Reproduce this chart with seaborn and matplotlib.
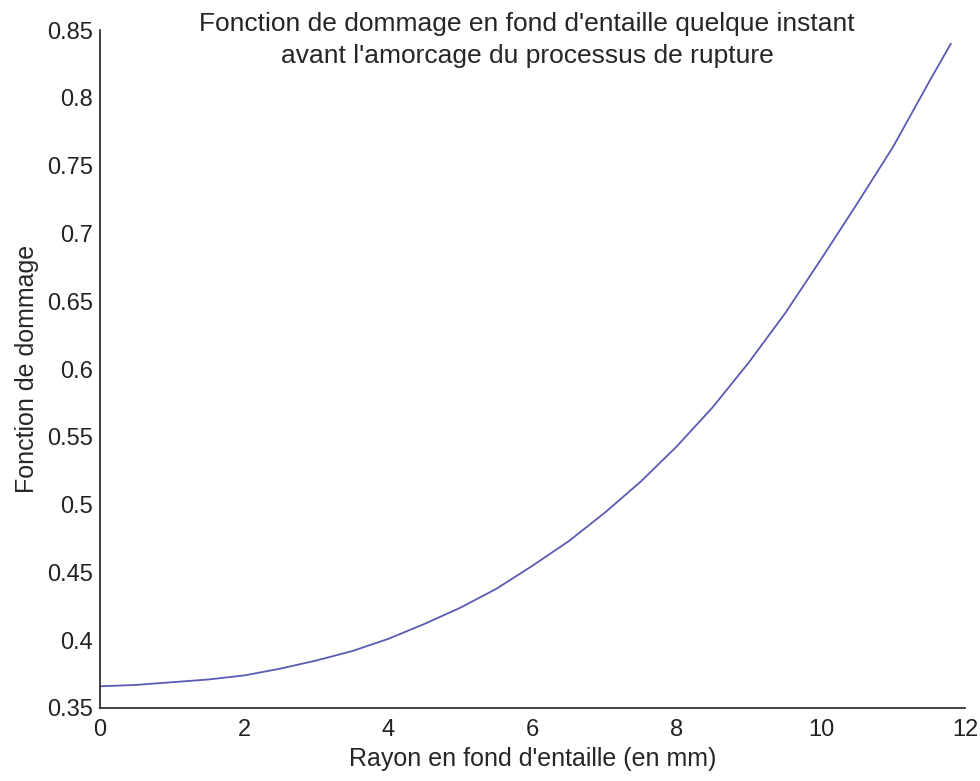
import pandas as pd
import seaborn as sns
import matplotlib.pyplot as plt

# rayon en fond d'entaille (mm) et fonction de dommage
rayon = [0, 0.5, 1, 1.5, 2, 2.5, 3, 3.5, 4, 4.5, 5, 5.5, 6, 6.5, 7, 7.5,
         8, 8.5, 9, 9.5, 10, 10.5, 11, 11.5, 11.8]
dommage = [0.366, 0.367, 0.369, 0.371, 0.374, 0.379, 0.385, 0.392, 0.401,
           0.412, 0.424, 0.438, 0.455, 0.473, 0.494, 0.517, 0.543, 0.572,
           0.605, 0.641, 0.681, 0.722, 0.764, 0.812, 0.840]
xticks = [0, 2, 4, 6, 8, 10, 12]
yticks = [0.35, 0.4, 0.45, 0.5, 0.55, 0.6, 0.65, 0.7, 0.75, 0.8, 0.85]

df = pd.DataFrame({'rayon': rayon, 'dommage': dommage})

sns.set_style('white')
plt.rcParams['font.family'] = ['Liberation Sans', 'DejaVu Sans']

fig = plt.figure(figsize=(9.8, 7.81), dpi=100)
ax = fig.add_axes([0.102, 0.0935, 0.883, 0.868])

sns.lineplot(data=df, x='rayon', y='dommage', ax=ax, color='#5a5ab4', linewidth=1.3)

ax.set_xlim(0, 12)
ax.set_ylim(0.35, 0.85)
ax.set_xticks(xticks)
ax.set_xticklabels([str(t) for t in xticks])
ax.set_yticks(yticks)
ax.set_yticklabels([f'{t:g}' for t in yticks])
ax.tick_params(direction='in', length=6, width=1, labelsize=17, colors='#222222')
ax.tick_params(axis='x', pad=8)
ax.tick_params(axis='y', pad=5)

for s in ['top', 'right']:
    ax.spines[s].set_visible(False)
for s in ['left', 'bottom']:
    ax.spines[s].set_color('#222222')
    ax.spines[s].set_linewidth(1.2)

ax.set_xlabel("Rayon en fond d'entaille (en mm)", fontsize=18, labelpad=4)
ax.set_ylabel('Fonction de dommage', fontsize=18, labelpad=6)

fig.text(0.538, 0.985, "Fonction de dommage en fond d'entaille quelque instant\n"
         "avant l'amorcage du processus de rupture",
         ha='center', va='top', fontsize=19, linespacing=1.45)

fig.savefig('out.png', dpi=100)
